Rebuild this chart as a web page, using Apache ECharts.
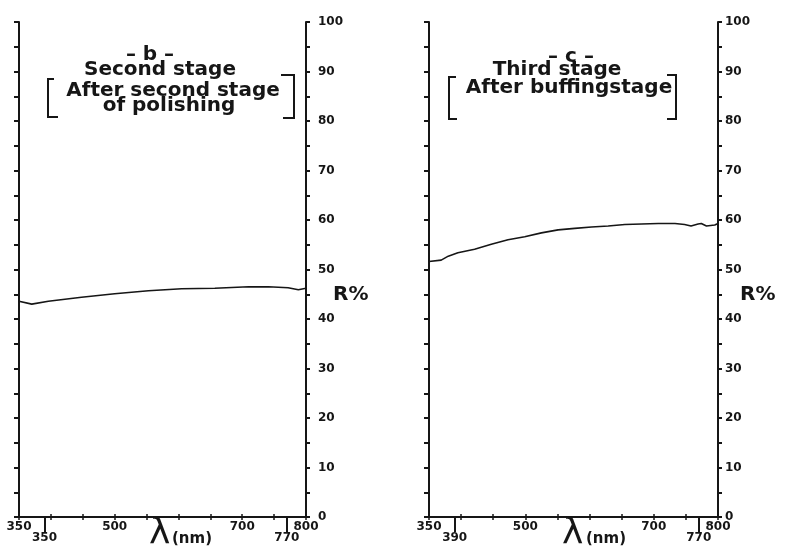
<!DOCTYPE html>
<html>
<head>
<meta charset="utf-8">
<script src="https://cdn.jsdelivr.net/npm/echarts@6/dist/echarts.min.js"></script>
<style>
html,body{margin:0;padding:0;background:#fff;}
#c{width:785px;height:556px;}
</style>
</head>
<body>
<div id="c"></div>
<script>
// Panel b: second stage (after second stage of polishing)
const wlB = [350, 370, 396, 448, 500, 553, 605, 657, 710, 741, 772, 788, 800];
const rB  = [43.6, 43.0, 43.6, 44.4, 45.1, 45.7, 46.1, 46.2, 46.5, 46.5, 46.3, 45.9, 46.2];
// Panel c: third stage (after buffing stage)
const wlC = [350, 369, 380, 395, 421, 447, 473, 499, 525, 551, 577, 603, 629, 655, 681, 707, 733, 748, 758, 769, 774, 782, 795, 800];
const rC  = [51.6, 51.9, 52.7, 53.4, 54.1, 55.1, 56.0, 56.6, 57.4, 58.0, 58.3, 58.6, 58.8, 59.1, 59.2, 59.3, 59.3, 59.1, 58.8, 59.2, 59.3, 58.8, 59.0, 59.3];
// Tick labels
const xTickLabels = [350, 500, 700, 800];
const yTickLabels = [0, 10, 20, 30, 40, 50, 60, 70, 80, 90, 100];
const markValues = [390, 770];
const markLabelsB = ['350', '770'];
const markLabelsC = ['390', '770'];

const INK = '#161616';
const FONT = 'DejaVu Sans';

function pairs(xs, ys) { return xs.map((x, i) => [x, ys[i]]); }

function xAxes(grid, marks) {
  return [
    { gridIndex: grid, type: 'value', min: 350, max: 800, interval: 50, position: 'bottom',
      axisLine: { lineStyle: { color: INK, width: 2 } },
      axisTick: { length: 3, lineStyle: { color: INK, width: 1.5 } },
      axisLabel: { margin: 4, color: INK, fontFamily: FONT, fontWeight: 'bold', fontSize: 12,
        formatter: v => xTickLabels.indexOf(v) >= 0 ? String(v) : '' },
      splitLine: { show: false } },
    { gridIndex: grid, type: 'value', min: 350, max: 800, interval: 50, position: 'top',
      axisLine: { lineStyle: { color: INK, width: 2 } },
      axisTick: { length: 3, lineStyle: { color: INK, width: 1.5 } },
      axisLabel: { show: false }, splitLine: { show: false } },
    { gridIndex: grid, type: 'value', min: 350, max: 800, position: 'bottom',
      axisLine: { show: false },
      axisTick: { show: true, inside: false, length: 15, customValues: markValues,
        lineStyle: { color: INK, width: 2 } },
      axisLabel: { margin: 15, color: INK, fontFamily: FONT, fontWeight: 'bold', fontSize: 12,
        customValues: markValues,
        formatter: v => { const i = markValues.indexOf(v); return i >= 0 ? marks[i] : ''; } },
      splitLine: { show: false } }
  ];
}

function yAxes(grid, margin) {
  return [
    { gridIndex: grid, type: 'value', min: 0, max: 100, interval: 5, position: 'left',
      axisLine: { show: true, lineStyle: { color: INK, width: 2 } },
      axisTick: { show: true, length: 5, lineStyle: { color: INK, width: 2 } },
      axisLabel: { show: false }, splitLine: { show: false } },
    { gridIndex: grid, type: 'value', min: 0, max: 100, interval: 5, position: 'right',
      axisLine: { show: true, lineStyle: { color: INK, width: 2 } },
      axisTick: { show: true, length: 4, lineStyle: { color: INK, width: 2 } },
      axisLabel: { margin: margin, color: INK, fontFamily: FONT, fontWeight: 'bold', fontSize: 12,
        formatter: v => yTickLabels.indexOf(v) >= 0 ? String(v) : '' },
      splitLine: { show: false } }
  ];
}

function txt(x, y, text, font, align) {
  return { type: 'text', x: x, y: y, z: 10,
    style: { text: text, font: font, fill: INK, textAlign: align || 'center', align: align || 'center',
      textVerticalAlign: 'middle', verticalAlign: 'middle' } };
}
function bracket(points) {
  return { type: 'polyline', z: 10, shape: { points: points },
    style: { stroke: INK, lineWidth: 2, fill: null } };
}

const TF = 'bold 20px ' + FONT;
const chart = echarts.init(document.getElementById('c'), null, { renderer: 'canvas' });
chart.setOption({
  backgroundColor: '#ffffff',
  animation: false,
  grid: [
    { left: 19, top: 22, width: 287, height: 495 },
    { left: 429, top: 22, width: 289, height: 495 }
  ],
  xAxis: xAxes(0, markLabelsB).concat(xAxes(1, markLabelsC)),
  yAxis: yAxes(0, 12).concat(yAxes(1, 7)),
  series: [
    { type: 'line', xAxisIndex: 0, yAxisIndex: 0, data: pairs(wlB, rB), showSymbol: false,
      lineStyle: { color: INK, width: 1.6 }, z: 3 },
    { type: 'line', xAxisIndex: 3, yAxisIndex: 2, data: pairs(wlC, rC), showSymbol: false,
      lineStyle: { color: INK, width: 1.6 }, z: 3 }
  ],
  graphic: [
    txt(150, 55, '– b –', TF),
    txt(160, 70, 'Second stage', TF),
    txt(173, 91, 'After second stage', TF),
    txt(169, 106, 'of polishing', TF),
    bracket([[54, 79], [48, 79], [48, 117], [58, 117]]),
    bracket([[281, 75], [294, 75], [294, 118], [283, 118]]),
    txt(571, 57, '– c –', TF),
    txt(557, 70, 'Third stage', TF),
    txt(569, 88, 'After buffingstage', TF),
    bracket([[456, 77], [449, 77], [449, 119], [457, 119]]),
    bracket([[667, 75], [676, 75], [676, 119], [667, 119]]),
    txt(333, 295, 'R%', 'bold 20px ' + FONT, 'left'),
    txt(740, 295, 'R%', 'bold 20px ' + FONT, 'left'),
    txt(149, 534, 'λ', '36px ' + FONT, 'left'),
    txt(172, 539, '(nm)', 'bold 15px ' + FONT, 'left'),
    txt(562, 534, 'λ', '36px ' + FONT, 'left'),
    txt(586, 539, '(nm)', 'bold 15px ' + FONT, 'left')
  ]
});
</script>
</body>
</html>
